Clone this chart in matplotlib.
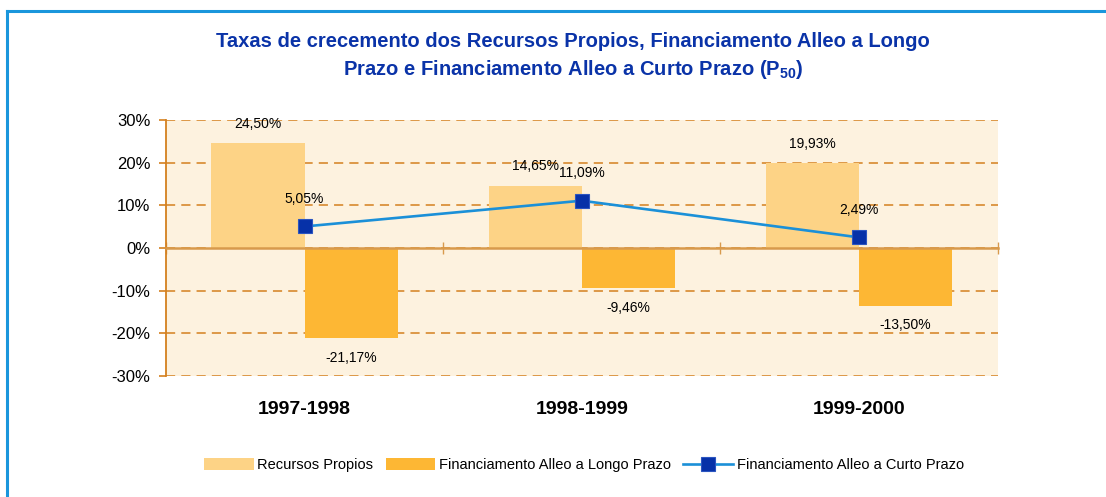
import numpy as np
import matplotlib.pyplot as plt
from matplotlib.lines import Line2D

# data
periods = ["1997-1998", "1998-1999", "1999-2000"]
recursos_propios = [24.50, 14.65, 19.93]
alleo_longo = [-21.17, -9.46, -13.50]
alleo_curto = [5.05, 11.09, 2.49]
yticks = [-30, -20, -10, 0, 10, 20, 30]

plt.rcParams['font.family'] = ['Liberation Sans', 'DejaVu Sans']
plt.rcParams['mathtext.fontset'] = 'custom'
plt.rcParams['mathtext.rm'] = 'Liberation Sans:bold'
plt.rcParams['mathtext.default'] = 'rm'

orange = '#D4801F'
c_light = '#FDD386'
c_dark = '#FDB734'
c_line = '#1B90D8'
c_mark = '#0631A8'

fig = plt.figure(figsize=(11.06, 4.97), dpi=100)
ax = fig.add_axes([0.150, 0.2435, 0.752, 0.515])
ax.set_facecolor('#FDF2DF')

x = np.arange(len(periods))
w = 0.336
b1 = ax.bar(x - w / 2, recursos_propios, w, color=c_light, label='Recursos Propios', zorder=2)
b2 = ax.bar(x + w / 2, alleo_longo, w, color=c_dark, label='Financiamento Alleo a Longo Prazo', zorder=2)
l1, = ax.plot(x, alleo_curto, color=c_line, lw=1.9, marker='s', markersize=10,
              markerfacecolor=c_mark, markeredgecolor='#2B55C0', markeredgewidth=0.8,
              label='Financiamento Alleo a Curto Prazo', zorder=4)

fmt = lambda v: ('%.2f%%' % v).replace('.', ',')
for i in x:
    ax.annotate(fmt(recursos_propios[i]), (i - w / 2, recursos_propios[i]), xytext=(0, 14),
                textcoords='offset points', ha='center', va='center', fontsize=10)
    ax.annotate(fmt(alleo_longo[i]), (i + w / 2, alleo_longo[i]), xytext=(0, -14),
                textcoords='offset points', ha='center', va='center', fontsize=10)
    ax.annotate(fmt(alleo_curto[i]), (i, alleo_curto[i]), xytext=(0, 20),
                textcoords='offset points', ha='center', va='center', fontsize=10)

ax.set_xlim(-0.5, len(periods) - 0.5)
ax.set_ylim(-30, 30)
ax.set_yticks(yticks)
ax.set_yticklabels(['%d%%' % t for t in yticks], fontsize=12)
ax.tick_params(axis='y', direction='out', length=5, width=1.2, color=orange, pad=6)
ax.yaxis.grid(True, ls=(0, (6, 4)), color=orange, lw=1.1, zorder=1)
ax.set_axisbelow(True)

for s in ['top', 'right']:
    ax.spines[s].set_visible(False)
ax.spines['left'].set_color(orange)
ax.spines['left'].set_linewidth(1.3)
ax.spines['bottom'].set_position(('data', 0))
ax.spines['bottom'].set_color('#D89A4C')
ax.spines['bottom'].set_linewidth(1.8)
ax.spines['bottom'].set_zorder(3)
ax.set_xticks(np.arange(len(periods) + 1) - 0.5)
ax.set_xticklabels([])
ax.tick_params(axis='x', direction='inout', length=9, width=1, color='#D89A4C')

sec = ax.secondary_xaxis('bottom')
sec.set_xticks(x)
sec.set_xticklabels(periods, fontsize=14, fontweight='bold')
sec.tick_params(length=0, pad=18)
sec.spines['bottom'].set_visible(False)

fig.text(0.518, 0.886, 'Taxas de crecemento dos Recursos Propios, Financiamento Alleo a Longo\n'
         'Prazo e Financiamento Alleo a Curto Prazo (P$_{50}$)',
         ha='center', va='center', fontsize=14.5, fontweight='bold', color='#0A33A8',
         linespacing=1.45)

fig.legend(handles=[b1, b2, l1], loc='center', bbox_to_anchor=(0.528, 0.064), ncol=3,
           frameon=False, prop={'size': 10.5}, handlelength=3.4, handleheight=0.85,
           handletextpad=0.25, columnspacing=0.85)

# frame around the chart
fig.add_artist(Line2D([7 / 1106, 1], [1 - 11 / 497, 1 - 11 / 497], color='#1A96DC', lw=2.2))
fig.add_artist(Line2D([7 / 1106, 7 / 1106], [0, 1 - 11 / 497], color='#1A96DC', lw=2.2))

fig.savefig('out.png', dpi=100)
